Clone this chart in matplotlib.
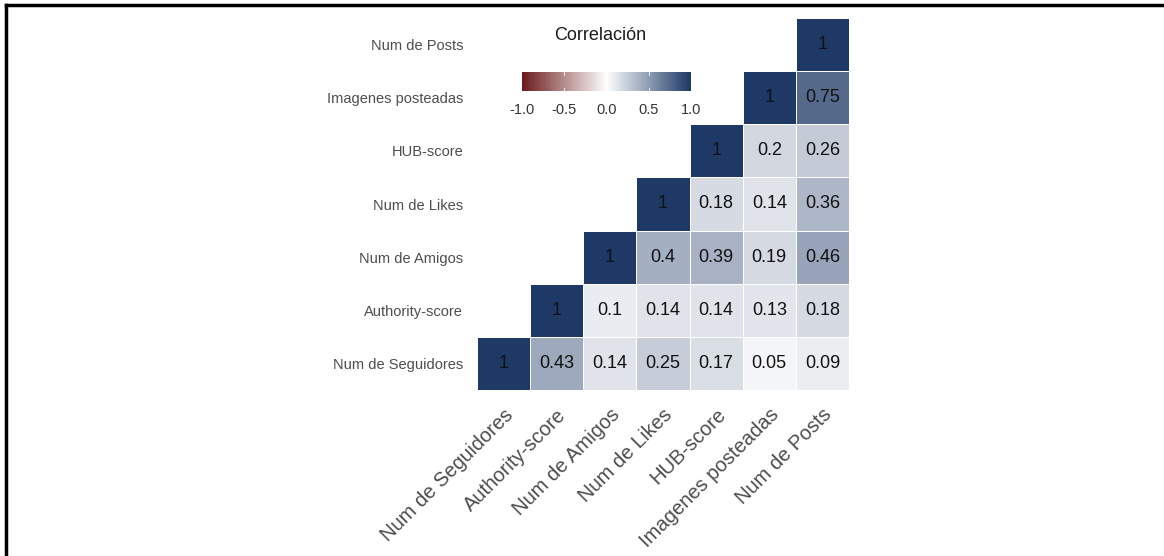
import numpy as np
import matplotlib.pyplot as plt
from matplotlib.colors import LinearSegmentedColormap
from matplotlib.lines import Line2D

plt.rcParams['font.family'] = ['Liberation Sans', 'DejaVu Sans']

variables = ['Num de Seguidores', 'Authority-score', 'Num de Amigos', 'Num de Likes',
             'HUB-score', 'Imagenes posteadas', 'Num de Posts']

# upper triangle rows, row i starts at column i
corr_rows = [
    [1, 0.43, 0.14, 0.25, 0.17, 0.05, 0.09],
    [1, 0.1, 0.14, 0.14, 0.13, 0.18],
    [1, 0.4, 0.39, 0.19, 0.46],
    [1, 0.18, 0.14, 0.36],
    [1, 0.2, 0.26],
    [1, 0.75],
    [1],
]

n = len(variables)
mat = np.full((n, n), np.nan)
for i, row in enumerate(corr_rows):
    mat[i, i:] = row

cmap = LinearSegmentedColormap.from_list('corr', ['#6B1B1B', '#FFFFFF', '#1E3966'])

fig = plt.figure(figsize=(11.64, 5.56), dpi=100)
ax = fig.add_axes([477/1164, 1 - 390/556, 372/1164, 372/556])

masked = np.ma.masked_invalid(mat)
ax.pcolormesh(np.arange(n + 1), np.arange(n + 1), masked, cmap=cmap, vmin=-1, vmax=1,
              edgecolor='white', linewidth=0.6)

for i in range(n):
    for j in range(n):
        if not np.isnan(mat[i, j]):
            v = mat[i, j]
            ax.text(j + 0.5, i + 0.5, f'{v:g}', ha='center', va='center',
                    fontsize=13, color='#111111')

ax.set_xlim(0, n)
ax.set_ylim(0, n)
ax.set_xticks(np.arange(n) + 0.5)
ax.set_yticks(np.arange(n) + 0.5)
ax.set_xticklabels(variables, rotation=45, ha='right', va='top', rotation_mode='anchor',
                   fontsize=14.5, color='#4D4D4D')
ax.set_yticklabels(variables, fontsize=10.5, color='#4D4D4D')
ax.tick_params(axis='y', length=0, pad=10)
ax.tick_params(axis='x', length=0, pad=11)
for s in ax.spines.values():
    s.set_visible(False)

# legend colorbar
cax = fig.add_axes([522/1164, 1 - 91/556, 169/1164, 19/556])
grad = np.linspace(-1, 1, 256).reshape(1, -1)
cax.imshow(grad, cmap=cmap, aspect='auto', extent=[-1, 1, 0, 1], vmin=-1, vmax=1)
for t in [-0.5, 0.0, 0.5]:
    cax.plot([t, t], [0, 0.18], color='white', lw=0.6)
    cax.plot([t, t], [0.82, 1], color='white', lw=0.6)
cax.set_xlim(-1, 1)
cax.set_ylim(0, 1)
cax.set_yticks([])
cax.set_xticks([-1, -0.5, 0, 0.5, 1])
cax.set_xticklabels(['-1.0', '-0.5', '0.0', '0.5', '1.0'], fontsize=10.5, color='#333333')
cax.tick_params(length=0, pad=9)
for s in cax.spines.values():
    s.set_visible(False)

fig.text(600/1164, 1 - 35/556, 'Correlación', ha='center', va='center', fontsize=13,
         color='#1a1a1a')

# frame lines on top and left
fig.add_artist(Line2D([6/1164, 1], [1 - 5/556, 1 - 5/556], color='black', lw=2.5,
                      transform=fig.transFigure))
fig.add_artist(Line2D([6/1164, 6/1164], [0, 1 - 5/556], color='black', lw=2.5,
                      transform=fig.transFigure))

fig.savefig('out.png', dpi=100)
